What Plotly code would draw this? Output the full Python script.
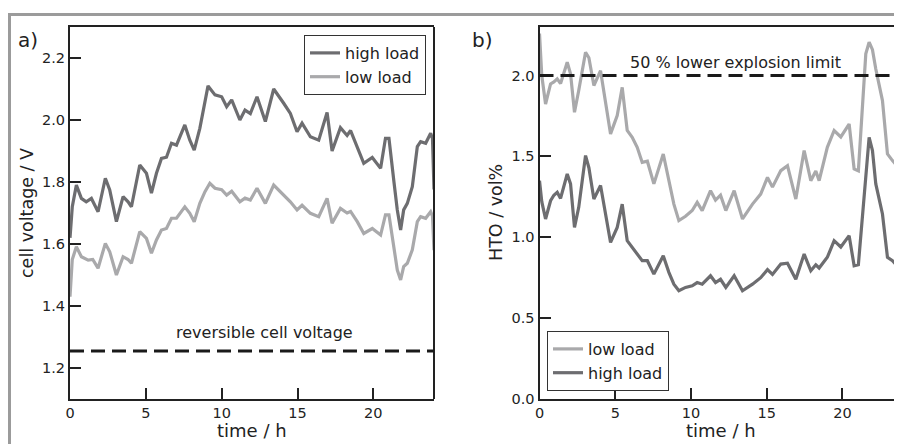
import plotly.graph_objects as go
from plotly.subplots import make_subplots

# a) Zellspannung
t_volt_high = [0.0, 0.15, 0.42, 0.75, 1.07, 1.41, 1.85, 2.33, 2.62, 3.06, 3.5, 3.83, 4.05, 4.6, 5.04,
               5.37, 5.7, 6.03, 6.36, 6.69, 7.02, 7.57, 7.9, 8.19, 8.56, 8.9, 9.1, 9.56, 10.0, 10.33,
               10.66, 11.2, 11.54, 11.89, 12.33, 12.88, 13.43, 14.09, 14.53, 14.97, 15.3, 15.85, 16.4,
               16.95, 17.28, 17.83, 18.27, 18.5, 18.94, 19.37, 19.93, 20.48, 20.8, 21.03, 21.36, 21.58,
               21.8, 22.0, 22.24, 22.57, 22.9, 23.12, 23.45, 23.78, 23.9, 24.0]
volt_high = [1.62, 1.72, 1.79, 1.747, 1.736, 1.747, 1.704, 1.812, 1.774, 1.672, 1.753, 1.736, 1.72,
             1.855, 1.828, 1.764, 1.828, 1.876, 1.88, 1.925, 1.919, 1.984, 1.935, 1.903, 1.973, 2.065,
             2.11, 2.081, 2.075, 2.043, 2.065, 2.0, 2.032, 2.021, 2.075, 1.995, 2.1, 2.054, 2.021, 1.962,
             1.99, 1.946, 1.935, 2.024, 1.9, 1.975, 1.95, 1.966, 1.914, 1.86, 1.879, 1.844, 1.941, 1.941,
             1.8, 1.71, 1.645, 1.71, 1.731, 1.785, 1.914, 1.93, 1.925, 1.957, 1.94, 1.776]

t_volt_low = [0.0, 0.15, 0.42, 0.75, 1.2, 1.5, 1.85, 2.33, 2.62, 3.06, 3.5, 3.83, 4.05, 4.6, 5.04,
              5.37, 5.7, 6.03, 6.36, 6.69, 7.02, 7.57, 7.9, 8.19, 8.56, 8.9, 9.22, 9.56, 10.0, 10.33,
              10.66, 11.2, 11.54, 11.89, 12.33, 12.88, 13.43, 14.09, 14.53, 14.97, 15.3, 15.85, 16.4,
              16.95, 17.28, 17.83, 18.27, 18.5, 18.94, 19.37, 19.93, 20.48, 20.8, 21.03, 21.36, 21.58,
              21.8, 22.0, 22.24, 22.57, 22.9, 23.12, 23.45, 23.78, 23.9, 24.0]
volt_low = [1.43, 1.55, 1.591, 1.559, 1.548, 1.55, 1.522, 1.602, 1.575, 1.5, 1.559, 1.55, 1.538, 1.64,
            1.618, 1.57, 1.613, 1.645, 1.65, 1.683, 1.683, 1.72, 1.699, 1.672, 1.731, 1.769, 1.796,
            1.78, 1.775, 1.758, 1.77, 1.736, 1.748, 1.742, 1.78, 1.731, 1.79, 1.758, 1.736, 1.71, 1.725,
            1.699, 1.688, 1.747, 1.667, 1.715, 1.70, 1.705, 1.672, 1.634, 1.65, 1.629, 1.694, 1.694,
            1.591, 1.516, 1.484, 1.527, 1.538, 1.581, 1.672, 1.688, 1.683, 1.704, 1.69, 1.58]

reversible_voltage = 1.255

# b) HTO
t_hto = [0.0, 0.15, 0.4, 0.73, 0.95, 1.17, 1.39, 1.83, 2.05, 2.31, 2.59, 3.04, 3.26, 3.59, 4.03,
         4.36, 4.69, 5.13, 5.46, 5.79, 6.12, 6.45, 6.78, 7.12, 7.55, 8.17, 8.54, 8.87, 9.2, 9.64,
         10.08, 10.41, 10.74, 11.29, 11.62, 11.95, 12.3, 12.85, 13.4, 14.06, 14.6, 15.05, 15.38,
         15.93, 16.37, 16.92, 17.47, 17.91, 18.24, 18.46, 19.0, 19.45, 19.89, 20.44, 20.77, 21.05,
         21.54, 21.76, 21.98, 22.2, 22.64, 22.97, 23.3, 23.7, 23.88]
hto_low = [2.26, 2.0, 1.824, 1.948, 1.96, 1.979, 1.95, 2.082, 2.01, 1.773, 1.907, 2.144, 2.11, 1.938,
           2.03, 1.845, 1.639, 1.752, 1.927, 1.66, 1.618, 1.556, 1.463, 1.47, 1.33, 1.515, 1.35, 1.205,
           1.103, 1.13, 1.165, 1.216, 1.165, 1.288, 1.23, 1.26, 1.165, 1.288, 1.113, 1.205, 1.267, 1.37,
           1.31, 1.412, 1.443, 1.236, 1.536, 1.35, 1.41, 1.35, 1.556, 1.66, 1.62, 1.70, 1.422, 1.41,
           2.134, 2.206, 2.16, 2.04, 1.845, 1.515, 1.474, 1.433, 1.85]
hto_high = [1.35, 1.22, 1.113, 1.226, 1.26, 1.278, 1.24, 1.391, 1.33, 1.061, 1.185, 1.505, 1.43, 1.237,
            1.32, 1.144, 0.968, 1.061, 1.205, 0.979, 0.938, 0.896, 0.855, 0.855, 0.772, 0.886, 0.783,
            0.71, 0.669, 0.69, 0.70, 0.72, 0.71, 0.762, 0.72, 0.74, 0.69, 0.762, 0.669, 0.71, 0.75, 0.80,
            0.77, 0.834, 0.84, 0.741, 0.896, 0.793, 0.83, 0.81, 0.876, 0.979, 0.94, 1.01, 0.824, 0.83,
            1.412, 1.618, 1.536, 1.33, 1.144, 0.876, 0.855, 0.814, 0.98]

lel_half = 2.0

x_ticks = [0, 5, 10, 15, 20]
volt_ticks = [1.2, 1.4, 1.6, 1.8, 2.0, 2.2]
hto_ticks = [0.0, 0.5, 1.0, 1.5, 2.0]

c_high = '#6d6d70'
c_low = '#a9a9ab'
c_axis = '#222222'
schrift = 'DejaVu Sans'

# die Seite hat 8px Rand, also Figur etwas kleiner und alles um 8px verschoben
OFF = 8
W, H = 902 - OFF, 444 - OFF


def px(x):
    return (x - OFF) / W


def py(y):
    return 1 - (y - OFF) / H


fig = make_subplots(rows=1, cols=2)

fig.add_trace(go.Scatter(x=t_volt_high, y=volt_high, mode='lines', name='high load',
                         line=dict(color=c_high, width=3.2), legend='legend'), row=1, col=1)
fig.add_trace(go.Scatter(x=t_volt_low, y=volt_low, mode='lines', name='low load',
                         line=dict(color=c_low, width=3.2), legend='legend'), row=1, col=1)
fig.add_trace(go.Scatter(x=t_hto, y=hto_low, mode='lines', name='low load',
                         line=dict(color=c_low, width=3.2), legend='legend2'), row=1, col=2)
fig.add_trace(go.Scatter(x=t_hto, y=hto_high, mode='lines', name='high load',
                         line=dict(color=c_high, width=3.2), legend='legend2'), row=1, col=2)

achse = dict(showgrid=False, zeroline=False, showline=True, linecolor=c_axis, linewidth=2,
             ticks='inside', ticklen=11, tickwidth=2, tickcolor=c_axis,
             ticklabelposition='outside',
             tickfont=dict(family=schrift, size=14.5, color=c_axis), automargin=False)

fig.update_xaxes(achse)
fig.update_yaxes(achse)

fig.update_layout(
    xaxis=dict(domain=[px(70), px(434)], range=[0, 24], tickvals=x_ticks, mirror=True),
    yaxis=dict(domain=[py(399), py(27)], range=[1.1, 2.3], tickvals=volt_ticks,
               tickformat='.1f', mirror=False),
    xaxis2=dict(domain=[px(539.5), 1.0], range=[0, 23.93], tickvals=x_ticks, mirror=True),
    yaxis2=dict(domain=[py(399), py(27)], range=[0, 2.3], tickvals=hto_ticks,
                tickformat='.1f', mirror=False),
    width=W, height=H,
    margin=dict(l=0, r=0, t=0, b=0),
    plot_bgcolor='white', paper_bgcolor='white',
    font=dict(family=schrift, color=c_axis),
    legend=dict(x=px(426), y=py(35), xanchor='right', yanchor='top',
                bordercolor='#333333', borderwidth=1, bgcolor='white',
                font=dict(family=schrift, size=16, color=c_axis), tracegroupgap=0),
    legend2=dict(x=px(547), y=py(391), xanchor='left', yanchor='bottom',
                 bordercolor='#333333', borderwidth=1, bgcolor='white',
                 font=dict(family=schrift, size=16, color=c_axis), tracegroupgap=0),
)

# rechte Kante vom linken Plot
fig.add_shape(type='line', xref='x domain', yref='y domain', x0=1, x1=1, y0=0, y1=1,
              line=dict(color=c_axis, width=2))

# Grenzlinien
fig.add_shape(type='line', xref='x domain', yref='y', x0=0, x1=1,
              y0=reversible_voltage, y1=reversible_voltage,
              line=dict(color='#1a1a1a', width=3, dash='14px,7px'))
fig.add_shape(type='line', xref='x2 domain', yref='y2', x0=0, x1=1,
              y0=lel_half, y1=lel_half,
              line=dict(color='#1a1a1a', width=3, dash='14px,7px'))

# grauer Rahmen
fig.add_shape(type='line', xref='paper', yref='paper', x0=px(8), x1=1, y0=py(14.5),
              y1=py(14.5), line=dict(color='#9b9b9b', width=3))
fig.add_shape(type='line', xref='paper', yref='paper', x0=px(9.5), x1=px(9.5), y0=0,
              y1=py(13), line=dict(color='#9b9b9b', width=3))

texte = [
    dict(text='reversible cell voltage', xref='x', yref='y', x=12.8, y=1.316, size=16, angle=0),
    dict(text='50 % lower explosion limit', xref='x2', yref='y2', x=12.92, y=2.082, size=16, angle=0),
    dict(text='a)', xref='paper', yref='paper', x=px(28), y=py(40), size=20, angle=0),
    dict(text='b)', xref='paper', yref='paper', x=px(482), y=py(40), size=20, angle=0),
    dict(text='time / h', xref='paper', yref='paper', x=px(252), y=py(430), size=18, angle=0),
    dict(text='time / h', xref='paper', yref='paper', x=px(721), y=py(430), size=18, angle=0),
    dict(text='cell voltage / V', xref='paper', yref='paper', x=px(27), y=py(213), size=17.5, angle=-90),
    dict(text='HTO / vol%', xref='paper', yref='paper', x=px(496), y=py(213), size=17.5, angle=-90),
]
for a in texte:
    fig.add_annotation(text=a['text'], xref=a['xref'], yref=a['yref'], x=a['x'], y=a['y'],
                       showarrow=False, textangle=a['angle'], xanchor='center', yanchor='middle',
                       font=dict(family=schrift, size=a['size'], color=c_axis))

fig.write_html("out.html")
